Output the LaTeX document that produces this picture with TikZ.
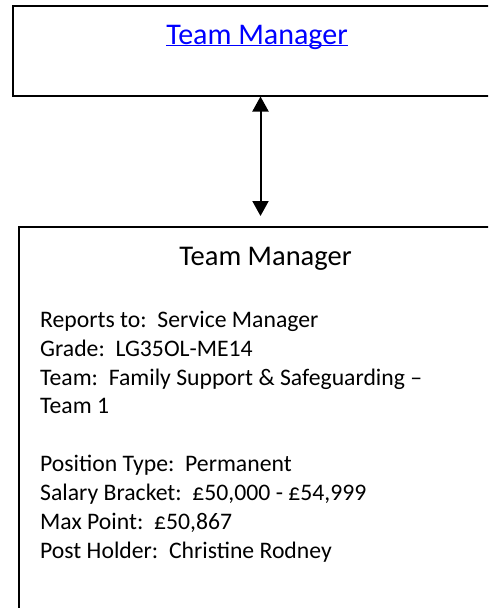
\documentclass[tikz,border=0pt]{standalone}
\usepackage{fontspec}
\setmainfont{Carlito}
\usepackage{xcolor}
\usetikzlibrary{arrows.meta}

\definecolor{linkblue}{RGB}{0,0,255}

\begin{document}
\begin{tikzpicture}[x=1pt, y=-1pt,
    postbox/.style={rectangle, draw, line width=2pt, inner sep=0pt},
    linktext/.style={text=linkblue, inner sep=0pt, font=\fontsize{30}{36}\selectfont},
    titletext/.style={inner sep=0pt, font=\fontsize{28.5}{34}\selectfont},
    bodytext/.style={inner sep=0pt, align=left, font=\fontsize{23.7}{28.9}\selectfont},
    dblarrow/.style={{Triangle[width=16pt,length=15pt]}-{Triangle[width=16pt,length=15pt]}, line width=2pt}
]
    \useasboundingbox (0,0) rectangle (488,608);
    \clip (0,0) rectangle (488,608);

    % Upper box (link)
    \node[postbox, minimum width=490pt, minimum height=89.5pt] (mgrtop) at (257.7,50.75) {};
    \node[linktext, anchor=base] (mgrlink) at (257,44) {\underline{\smash{Team Manager}}};

    % Lower box (post details)
    \node[postbox, minimum width=494pt, minimum height=420pt] (mgrpost) at (266,437) {};
    \node[titletext, anchor=base] (posttitle) at (265.5,265) {Team Manager};
    \node[bodytext, anchor=north west] (postinfo) at (40,310.7) {Reports to:\ \ Service Manager\\
        Grade:\ \ LG35OL-ME14\\
        Team:\ \ Family Support \& Safeguarding --\\
        Team 1\\
        \\
        Position Type:\ \ Permanent\\
        Salary Bracket:\ \ £50,000 - £54,999\\
        Max Point:\ \ £50,867\\
        Post Holder:\ \ Christine Rodney};

    % Link between boxes
    \coordinate (axis) at (260.5,0);
    \draw[dblarrow] (mgrtop.south -| axis) -- ([yshift=10pt]mgrpost.north -| axis);
\end{tikzpicture}
\end{document}
